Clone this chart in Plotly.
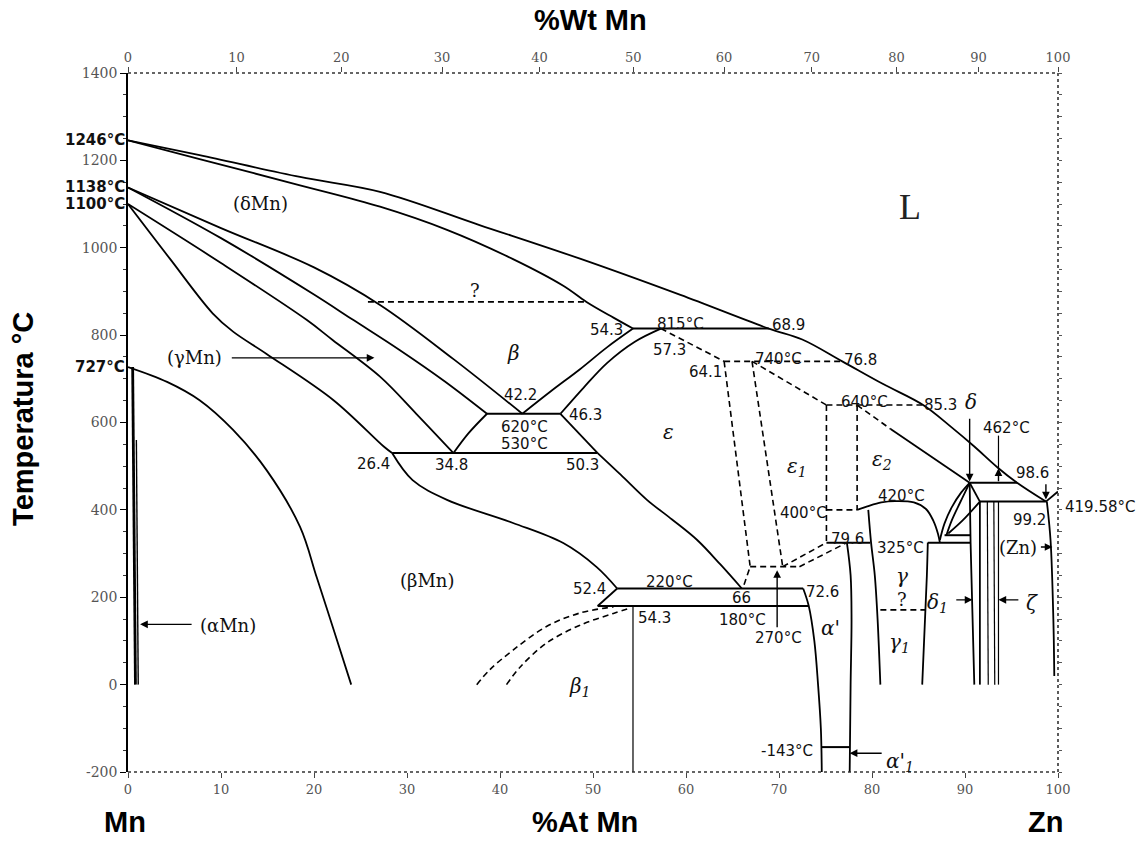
import plotly.graph_objects as go

# ---------------- axis ticks ----------------
AT_TICKS = [0, 10, 20, 30, 40, 50, 60, 70, 80, 90, 100]
WT_TICKS = [0, 10, 20, 30, 40, 50, 60, 70, 80, 90, 100]
T_TICKS = [-200, 0, 200, 400, 600, 800, 1000, 1200, 1400]
M_LIGHT, M_HEAVY = 54.94, 65.38  # atomic masses used for the %Wt scale

# ---------------- solid boundary curves (x = %At, y = °C) ----------------
LIQ_X = [0, 7.7, 18.5, 27.1, 37.8, 48.6, 59.4, 68.9, 72.5, 76.8, 81.2, 85.5, 88.5, 91.0, 93.5, 95.6, 98.7]
LIQ_Y = [1246, 1212, 1162, 1128, 1052, 975, 892, 815, 790, 740, 688, 640, 590, 545, 497, 462, 419]
SOL_X = [0, 7.7, 18.5, 27.1, 34.3, 41.4, 46.8, 49.3, 52.2, 54.3]
SOL_Y = [1246, 1203, 1143, 1094, 1041, 974, 913, 876, 840, 815]
L1_X = [0, 10, 20, 27.1, 35, 42.4]
L1_Y = [1138, 1045, 955, 869, 745, 620]
L2_X = [0, 10, 20, 24.2, 29.2, 34, 38.6]
L2_Y = [1138, 1022, 893, 835, 766, 695, 620]
L3_X = [0, 10, 19.2, 22, 27.1, 31, 35]
L3_Y = [1100, 965, 835, 789, 705, 620, 530]
L4_X = [0, 4.5, 9.1, 11.3, 14.9, 22.1, 27.5, 28.4]
L4_Y = [1100, 975, 850, 808, 757, 651, 545, 530]
A727_X = [0, 4.2, 7.7, 11.3, 14.9, 18.5, 20.3, 22.2, 24]
A727_Y = [727, 693, 651, 583, 491, 361, 245, 120, 0]
AMN1_X = [0.5, 0.8]
AMN1_Y = [727, 0]
AMN2_X = [0.9, 1.1]
AMN2_Y = [560, 0]
B1_X = [42.4, 45.5, 48.6, 51.5, 54.3]
B1_Y = [620, 672, 722, 772, 815]
B2_X = [35, 36.6, 38.6]
B2_Y = [530, 575, 620]
B3_X = [46.5, 49, 51.5, 54.5, 57.3]
B3_Y = [620, 680, 736, 785, 815]
B4_X = [46.5, 50.5]
B4_Y = [620, 530]
EPS_X = [50.5, 53, 55.8, 58.5, 61.2, 63.7, 66]
EPS_Y = [530, 480, 423, 378, 331, 275, 220]
BMN_X = [28.4, 30.6, 34.3, 41.4, 46.8, 50.4, 52.6]
BMN_Y = [530, 468, 423, 370, 324, 269, 220]
CHEV_X = [52.6, 50.5]
CHEV_Y = [220, 180]
V54_X = [54.3, 54.3]
V54_Y = [180, -200]
AP_L_X = [72.6, 73.2, 73.8, 74.2, 74.5, 74.6]
AP_L_Y = [220, 180, 100, 0, -100, -200]
AP_R_X = [77.3, 77.7, 77.8, 77.7, 77.6]
AP_R_Y = [325, 250, 150, 0, -200]
GL_X = [79.6, 79.9, 80.3, 80.6, 80.9]
GL_Y = [400, 325, 250, 150, 0]
GR_X = [86.0, 85.9, 85.7, 85.4]
GR_Y = [325, 250, 150, 0]
DOME_X = [78.4, 79.5, 81, 82.5, 84.5, 85.8, 86.6, 87.1, 87.3]
DOME_Y = [400, 408, 417, 420, 417, 402, 375, 345, 325]
DIAG_X = [82, 90.5]
DIAG_Y = [585, 462]
DA_X = [90.5, 89.6, 88.6, 87.8, 87.3]
DA_Y = [462, 440, 407, 369, 331]
DB_X = [90.5, 89.5, 88.6, 88.0]
DB_Y = [462, 418, 377, 342]
DC_X = [91.6, 89.8, 88.2]
DC_Y = [419, 377, 346]
DD_X = [90.5, 91.6]
DD_Y = [462, 419]
V1_X = [90.5, 90.6, 91.0]
V1_Y = [462, 325, 0]
V2_X = [91.6, 91.6]
V2_Y = [419, 0]
V3_X = [92.4, 92.5]
V3_Y = [419, 0]
V4_X = [93.1, 93.2]
V4_Y = [419, 0]
V5_X = [93.6, 93.6]
V5_Y = [419, 0]
ARR462_X = [93.6, 93.6]
ARR462_Y = [495, 570]
ZN_X = [98.8, 99.2, 99.5, 99.6]
ZN_Y = [419, 330, 150, 20]
ZNL_X = [98.7, 100]
ZNL_Y = [419, 442]

# ---------------- dashed boundary curves ----------------
D57_X = [57.3, 64.1]
D57_Y = [815, 740]
D1_X = [64.1, 66.9, 66.1]
D1_Y = [740, 270, 220]
D2_X = [67.1, 70.4]
D2_Y = [740, 270]
DG_X = [67.1, 75.1]
DG_Y = [740, 640]
DV75_X = [75.1, 75.1]
DV75_Y = [640, 325]
DV78_X = [78.4, 78.4]
DV78_Y = [640, 400]
DDIAG_X = [78.4, 82]
DDIAG_Y = [640, 585]
E1_X = [70.4, 75.1]
E1_Y = [270, 325]
E2_X = [72.2, 77.3]
E2_Y = [270, 325]
OUT_X = [37.5, 38.9, 41.4, 45, 48.6, 52.2]
OUT_Y = [0, 34, 79, 133, 164, 178]
INN_X = [40.7, 42.2, 45, 48.6, 52.2, 54]
INN_Y = [0, 41, 95, 136, 163, 175]

# ---------------- horizontal tie lines ----------------
TIE_X0 = [54.3, 38.6, 28.4, 52.6, 50.5, 75.1, 86.0, 87.8, 90.5, 91.6, 74.6]
TIE_X1 = [68.9, 46.5, 50.5, 72.6, 73.2, 79.8, 90.6, 90.6, 95.6, 98.7, 77.6]
TIE_Y = [815, 620, 530, 220, 180, 325, 325, 342, 462, 419, -143]
DTIE_X0 = [25.8, 64.1, 75.1, 75.1, 66.9, 80.9]
DTIE_X1 = [49.3, 76.8, 85.5, 78.4, 72.2, 85.7]
DTIE_Y = [876, 740, 640, 400, 270, 171]

# ---------------- labels ----------------
NUM_LABELS = [
    ("54.3", 51.5, 812), ("815°C", 59.4, 826), ("68.9", 71.0, 823), ("57.3", 58.2, 766),
    ("64.1", 62.1, 716), ("740°C", 69.9, 745), ("76.8", 78.8, 743), ("640°C", 79.2, 648),
    ("85.3", 87.4, 640), ("462°C", 94.5, 587), ("98.6", 97.3, 484), ("99.2", 96.9, 377),
    ("420°C", 83.2, 432), ("400°C", 72.6, 393), ("79.6", 77.4, 333), ("325°C", 83.1, 313),
    ("42.2", 42.2, 663), ("620°C", 42.6, 590), ("46.3", 49.2, 617), ("530°C", 42.6, 550),
    ("26.4", 26.4, 505), ("34.8", 34.8, 503), ("50.3", 48.9, 503), ("52.4", 49.6, 219),
    ("220°C", 58.2, 235), ("66", 66.0, 198), ("54.3", 56.6, 152), ("180°C", 66.1, 148),
    ("72.6", 74.7, 212), ("270°C", 69.9, 107), ("-143°C", 70.9, -152),
]
EDGE_LABEL = ("419.58°C", 407)
PHASE_LABELS = [
    ("(δMn)", 14.2, 1102), ("(γMn)", 7.1, 748), ("(αMn)", 10.7, 135), ("(βMn)", 32.1, 239),
    ("?", 37.3, 903), ("?", 83.2, 196), ("(Zn)", 95.7, 315),
]
GREEK_LABELS = [
    ("β", 41.4, 759), ("ε", 58.1, 578), ("ε<sub>1</sub>", 71.9, 498), ("ε<sub>2</sub>", 81.1, 514),
    ("γ", 83.2, 248), ("γ<sub>1</sub>", 83.0, 95), ("α'", 75.5, 130), ("β<sub>1</sub>", 48.6, -5),
    ("δ<sub>1</sub>", 87.0, 187), ("ζ", 97.2, 187), ("δ", 90.6, 647), ("α'<sub>1</sub>", 83.0, -177),
]
LEFT_LABELS = [("1246°C", 1246), ("1138°C", 1138), ("1100°C", 1100), ("727°C", 727)]
# arrows: (head x, head y, tail x, tail y)
ARROWS = [
    (26.5, 748, 11.0, 748), (1.3, 138, 7.0, 138), (69.8, 262, 69.8, 128),
    (77.6, -157, 81.2, -157), (90.8, 194, 88.9, 194), (93.6, 194, 95.9, 194),
    (99.4, 315, 98.0, 315), (90.5, 465, 90.5, 612), (93.6, 495, 93.6, 462),
    (98.7, 424, 98.7, 462),
]

fig = go.Figure()


def add(x, y, dash="solid", width=1.8, shape="linear"):
    fig.add_trace(go.Scatter(x=x, y=y, mode="lines",
                             line=dict(color="black", width=width, dash=dash, shape=shape),
                             hoverinfo="skip", showlegend=False))


SP = "spline"
for cx, cy in [(LIQ_X, LIQ_Y), (SOL_X, SOL_Y), (L1_X, L1_Y), (L2_X, L2_Y), (L3_X, L3_Y),
               (L4_X, L4_Y), (A727_X, A727_Y), (B1_X, B1_Y), (B2_X, B2_Y), (B3_X, B3_Y),
               (EPS_X, EPS_Y), (BMN_X, BMN_Y), (AP_L_X, AP_L_Y), (AP_R_X, AP_R_Y),
               (GL_X, GL_Y), (GR_X, GR_Y), (DOME_X, DOME_Y), (DA_X, DA_Y), (DB_X, DB_Y),
               (DC_X, DC_Y), (ZN_X, ZN_Y), (V1_X, V1_Y)]:
    add(cx, cy, shape=SP)
for cx, cy in [(B4_X, B4_Y), (CHEV_X, CHEV_Y), (DIAG_X, DIAG_Y), (DD_X, DD_Y), (ZNL_X, ZNL_Y)]:
    add(cx, cy)
add(AMN1_X, AMN1_Y, width=2.8)
add(AMN2_X, AMN2_Y, width=1.4)
for cx, cy in [(V54_X, V54_Y), (V3_X, V3_Y), (V4_X, V4_Y), (V5_X, V5_Y), (ARR462_X, ARR462_Y)]:
    add(cx, cy, width=1.2)
add(V2_X, V2_Y, width=1.8)
for x0, x1, yy in zip(TIE_X0, TIE_X1, TIE_Y):
    add([x0, x1], [yy, yy], width=2)

DSH = "6px,4px"
for cx, cy in [(D57_X, D57_Y), (D1_X, D1_Y), (D2_X, D2_Y), (DG_X, DG_Y), (DV75_X, DV75_Y),
               (DV78_X, DV78_Y), (DDIAG_X, DDIAG_Y), (E1_X, E1_Y), (E2_X, E2_Y)]:
    add(cx, cy, dash=DSH, width=1.6)
add(OUT_X, OUT_Y, dash=DSH, width=1.6, shape=SP)
add(INN_X, INN_Y, dash=DSH, width=1.6, shape=SP)
for x0, x1, yy in zip(DTIE_X0, DTIE_X1, DTIE_Y):
    add([x0, x1], [yy, yy], dash=DSH, width=1.6)

# dummy traces to activate secondary axes
fig.add_trace(go.Scatter(x=[0, 100], y=[0, 0], xaxis="x2", yaxis="y", mode="markers",
                         marker=dict(opacity=0), hoverinfo="skip", showlegend=False))
fig.add_trace(go.Scatter(x=[0, 100], y=[0, 0], xaxis="x", yaxis="y2", mode="markers",
                         marker=dict(opacity=0), hoverinfo="skip", showlegend=False))

# wt% tick positions on the at% scale
WT_POS = []
for w in WT_TICKS:
    a = w / M_LIGHT
    b = (100 - w) / M_HEAVY
    WT_POS.append(100 * a / (a + b))

NUMFONT = dict(family="DejaVu Sans", size=15, color="#111")
for t, x, y in NUM_LABELS:
    fig.add_annotation(x=x, y=y, text=t, showarrow=False, font=NUMFONT)
fig.add_annotation(xref="paper", yref="y", x=1.005, y=EDGE_LABEL[1], text=EDGE_LABEL[0],
                   showarrow=False, xanchor="left", yanchor="middle", font=NUMFONT)
for t, x, y in PHASE_LABELS:
    fig.add_annotation(x=x, y=y, text=t, showarrow=False,
                       font=dict(family="DejaVu Serif", size=18, color="#111"))
for t, x, y in GREEK_LABELS:
    fig.add_annotation(x=x, y=y, text="<i>" + t + "</i>", showarrow=False,
                       font=dict(family="DejaVu Serif", size=20, color="#111"))
fig.add_annotation(x=84.1, y=1093, text="L", showarrow=False,
                   font=dict(family="Liberation Serif", size=36, color="#222"))
for t, yy in LEFT_LABELS:
    fig.add_annotation(x=0, y=yy, text="<b>" + t + "</b>", showarrow=False, xanchor="right",
                       xshift=-1, font=dict(family="DejaVu Sans", size=15, color="#111"))
for hx, hy, tx, ty in ARROWS:
    fig.add_annotation(x=hx, y=hy, ax=tx, ay=ty, xref="x", yref="y", axref="x", ayref="y",
                       text="", showarrow=True, arrowhead=2, arrowsize=1.1, arrowwidth=1.4,
                       arrowcolor="black")

TITLE_FONT = dict(family="Liberation Sans", size=29, color="black")
TITLES = [("<b>%Wt Mn</b>", 0.497, 1.076, 0), ("<b>%At Mn</b>", 0.491, -0.071, 0),
          ("<b>Mn</b>", -0.003, -0.071, 0), ("<b>Zn</b>", 0.987, -0.071, 0),
          ("<b>Temperatura °C</b>", -0.113, 0.505, -90)]
for t, px, py, ang in TITLES:
    fig.add_annotation(xref="paper", yref="paper", x=px, y=py, text=t, showarrow=False,
                       xanchor="center", yanchor="middle", textangle=ang, font=TITLE_FONT)

# dotted frame on top, bottom and right
for x0, y0, x1, y1 in [(0, 1, 1, 1), (0, 0, 1, 0), (1, 0, 1, 1)]:
    fig.add_shape(type="line", xref="paper", yref="paper", x0=x0, y0=y0, x1=x1, y1=y1,
                  line=dict(color="#333", width=1.6, dash="dot"))

TICKFONT = dict(family="DejaVu Serif", size=13, color="#555")
fig.update_layout(
    width=1147, height=841,
    margin=dict(l=128, r=89, t=73, b=69),
    paper_bgcolor="white", plot_bgcolor="white",
    showlegend=False,
    xaxis=dict(range=[0, 100], tickvals=AT_TICKS, ticktext=[str(v) for v in AT_TICKS],
               ticks="outside", ticklen=5, tickcolor="#444", tickfont=TICKFONT,
               showgrid=False, zeroline=False, showline=False),
    xaxis2=dict(range=[0, 100], overlaying="x", side="top", tickvals=WT_POS,
                ticktext=[str(v) for v in WT_TICKS], ticks="outside", ticklen=5,
                tickcolor="#444", tickfont=TICKFONT, showgrid=False, zeroline=False,
                showline=False),
    yaxis=dict(range=[-200, 1400], tickvals=T_TICKS, ticktext=[str(v) for v in T_TICKS],
               ticks="outside", ticklen=6, tickcolor="black",
               tickfont=dict(family="DejaVu Serif", size=14, color="#555"),
               showgrid=False, zeroline=False, showline=True, linecolor="black", linewidth=1.6,
               minor=dict(ticks="outside", ticklen=3, dtick=50, tickcolor="#333")),
    yaxis2=dict(range=[-200, 1400], overlaying="y", side="right", dtick=50, ticks="outside",
                ticklen=3, tickcolor="#555", showticklabels=False, showgrid=False,
                zeroline=False, showline=False),
)

fig.write_html("out.html")
